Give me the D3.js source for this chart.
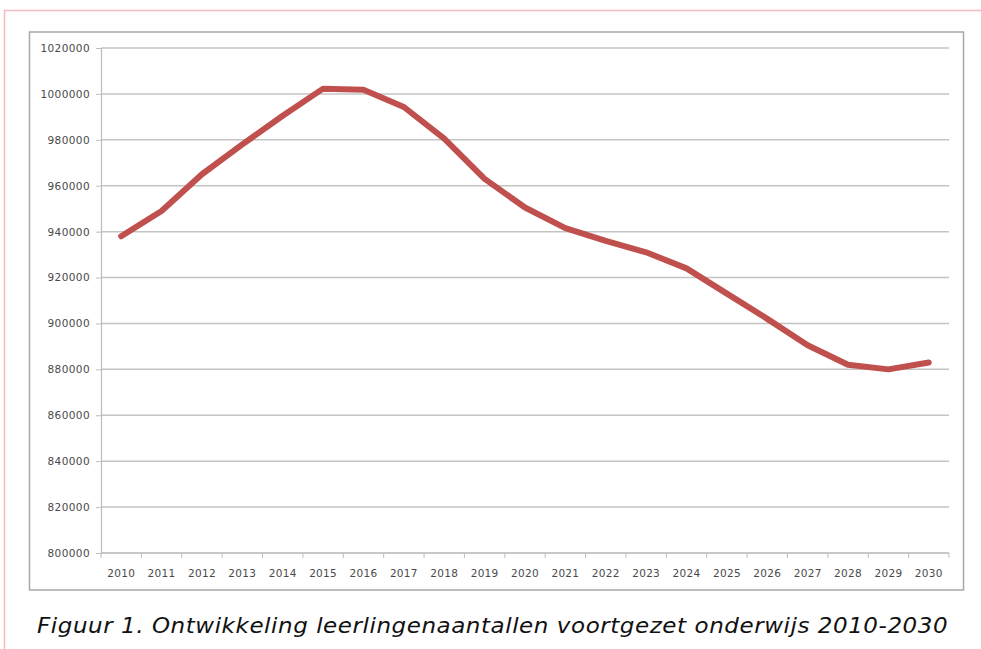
<!DOCTYPE html>
<html><head><meta charset="utf-8">
<script src="https://cdn.jsdelivr.net/npm/d3@7"></script>
<style>body{margin:0;background:#fff;}svg{display:block;}</style>
</head><body>
<svg id="c" width="981" height="649"></svg>
<script>
const years = ["2010","2011","2012","2013","2014","2015","2016","2017","2018","2019","2020","2021","2022","2023","2024","2025","2026","2027","2028","2029","2030"];
const pupils = [938000,949000,965000,978000,990500,1002300,1001800,994300,980500,963000,950500,941500,936000,931000,924000,913000,902000,890500,882000,880000,883000];
const yTicks = [800000,820000,840000,860000,880000,900000,920000,940000,960000,980000,1000000,1020000];
const caption = "Figuur 1. Ontwikkeling leerlingenaantallen voortgezet onderwijs 2010-2030";

const svg = d3.select("#c");
// page border (pink)
svg.append("line").attr("x1",4.5).attr("x2",4.5).attr("y1",10).attr("y2",649).attr("stroke","#f2bcbc").attr("stroke-width",1.5);
svg.append("line").attr("x1",4).attr("x2",981).attr("y1",10.5).attr("y2",10.5).attr("stroke","#f2bcbc").attr("stroke-width",1.5);
// chart box
svg.append("rect").attr("x",29.5).attr("y",32).attr("width",934).attr("height",558).attr("fill","#fff").attr("stroke","#a8a8a8").attr("stroke-width",1.5);

const L=101, R=949, T=48, B=553;
const x = d3.scaleBand().domain(years).range([L,R]);
const y = d3.scaleLinear().domain([800000,1020000]).range([B,T]);

const g = svg.append("g");
// gridlines
g.selectAll(".grid").data(yTicks).join("line")
  .attr("x1",L).attr("x2",R).attr("y1",d=>y(d)).attr("y2",d=>y(d))
  .attr("stroke","#c4c4c4").attr("stroke-width",1.5);

const yAxis = d3.axisLeft(y).tickValues(yTicks).tickSize(5).tickPadding(6).tickFormat(d3.format("d"));
const ya = svg.append("g").attr("transform",`translate(${L},0)`).call(yAxis);
ya.select(".domain").attr("stroke","#bdbdbd").attr("stroke-width",1.2);
ya.selectAll(".tick line").attr("stroke","#bdbdbd");
ya.selectAll("text").attr("font-family","'DejaVu Sans', sans-serif").attr("font-size",10.5)
  .attr("letter-spacing",0.4).attr("fill","#4a4a4a");

// x axis with ticks between categories
const xa = svg.append("g").attr("transform",`translate(0,${B})`);
xa.append("line").attr("x1",L).attr("x2",R).attr("stroke","#bdbdbd").attr("stroke-width",1.2);
const bounds = years.map(d=>x(d)).concat([R]);
xa.selectAll(".xt").data(bounds).join("line").attr("x1",d=>d).attr("x2",d=>d).attr("y1",0).attr("y2",5).attr("stroke","#bdbdbd");
xa.selectAll(".xl").data(years).join("text")
  .attr("x",d=>x(d)+x.bandwidth()/2).attr("y",24).attr("text-anchor","middle")
  .attr("font-family","'DejaVu Sans', sans-serif").attr("font-size",10.5).attr("letter-spacing",0.3)
  .attr("fill","#4a4a4a").text(d=>d);

// line
const line = d3.line().x((d,i)=>x(years[i])+x.bandwidth()/2).y(d=>y(d));
svg.append("path").datum(pupils).attr("d",line).attr("fill","none")
  .attr("stroke","#c0504d").attr("stroke-width",6).attr("stroke-linejoin","round").attr("stroke-linecap","round");

// caption
svg.append("text").attr("transform","translate(37,633) scale(1.07,1)").attr("font-family","'DejaVu Sans', Verdana, sans-serif")
  .attr("font-style","italic").attr("font-size",21.5).attr("fill","#111")
  .attr("textLength",851).attr("lengthAdjust","spacing").text(caption);
</script>
</body></html>
